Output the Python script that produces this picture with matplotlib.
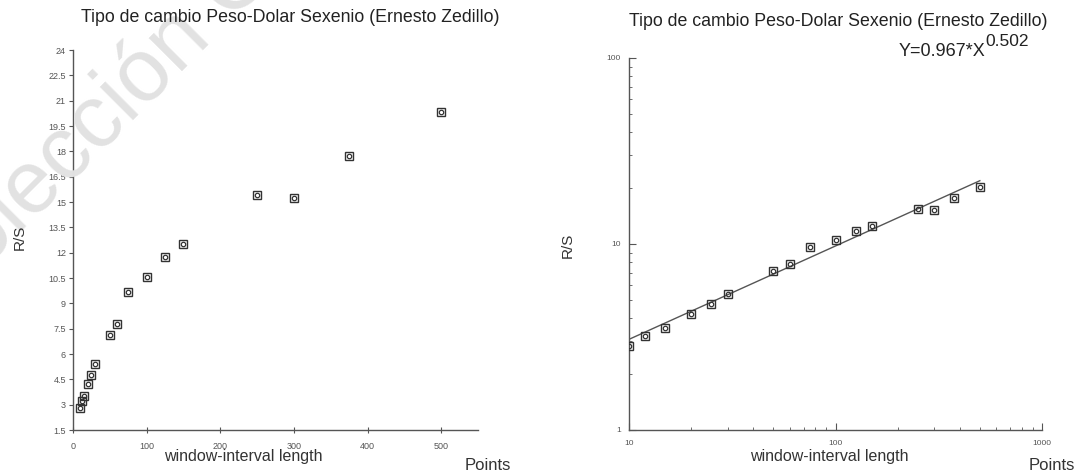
import numpy as np
import matplotlib
matplotlib.use('Agg')
import matplotlib.pyplot as plt
from matplotlib.ticker import FixedLocator, LogLocator, NullFormatter

plt.rcParams['font.family'] = ['Liberation Sans', 'DejaVu Sans']

# window-interval length (points) and rescaled range R/S
window = [10, 12, 15, 20, 25, 30, 50, 60, 75, 100, 125, 150, 250, 300, 375, 500]
rs = [2.82, 3.22, 3.53, 4.20, 4.77, 5.38, 7.13, 7.80, 9.65, 10.57,
      11.77, 12.50, 15.40, 15.25, 17.70, 20.30]

# power-law fit  Y = a * X^b
fit_a = 0.967
fit_b = 0.502

titulo = 'Tipo de cambio Peso-Dolar Sexenio (Ernesto Zedillo)'
yticks_lin = [1.5, 3, 4.5, 6, 7.5, 9, 10.5, 12, 13.5, 15, 16.5, 18, 19.5, 21, 22.5, 24]
xticks_lin = [0, 100, 200, 300, 400, 500]

W, H = 1087, 474
fig = plt.figure(figsize=(W / 100, H / 100), dpi=100)

# marca de agua
fig.text(-0.10, 0.305, 'Colección General', rotation=45, fontsize=64,
         color='#e2e2e2', ha='left', va='bottom', zorder=0)

mk = dict(linestyle='none', color='#333333')


def marcas(ax):
    ax.plot(window, rs, marker='s', markersize=5.5, markerfacecolor='none',
            markeredgewidth=1.0, **mk, zorder=3)
    ax.plot(window, rs, marker='o', markersize=3.2, markerfacecolor='none',
            markeredgewidth=0.9, **mk, zorder=3)


def estilo(ax):
    for s in ['top', 'right']:
        ax.spines[s].set_visible(False)
    for s in ['left', 'bottom']:
        ax.spines[s].set_color('#555555')
        ax.spines[s].set_linewidth(1.0)
    ax.set_facecolor('none')


# ---- lineal ----
ax1 = fig.add_axes([73 / W, 1 - 430 / H, (478 - 73) / W, (430 - 50) / H])
estilo(ax1)
marcas(ax1)
ax1.set_xlim(0, 550)
ax1.set_ylim(1.5, 24)
ax1.yaxis.set_major_locator(FixedLocator(yticks_lin))
ax1.set_yticklabels(['%g' % v for v in yticks_lin])
ax1.xaxis.set_major_locator(FixedLocator(xticks_lin))
ax1.set_xticklabels([str(v) for v in xticks_lin])
ax1.tick_params(axis='y', direction='out', length=3, width=0.8, colors='#555555',
                labelsize=6.5, pad=2)
ax1.tick_params(axis='x', direction='inout', length=5, width=0.8, colors='#555555',
                labelsize=6.5, pad=6)
fig.text(290 / W, 1 - 17 / H, titulo, ha='center', va='center', fontsize=12.8,
         color='#222222')
fig.text(243 / W, 1 - 457 / H, 'window-interval length', ha='center', va='center',
         fontsize=11.5, color='#333333')
fig.text(488 / W, 1 - 465 / H, 'Points', ha='center', va='center', fontsize=12,
         color='#333333')
fig.text(20 / W, 1 - 237 / H, 'R/S', ha='center', va='center', rotation=90,
         fontsize=11, color='#333333')

# ---- log-log ----
ax2 = fig.add_axes([629 / W, 1 - 430 / H, (1042 - 629) / W, (430 - 58) / H])
estilo(ax2)
ax2.set_xscale('log')
ax2.set_yscale('log')
marcas(ax2)
xf = np.array([window[0], window[-1]], dtype=float)
ax2.plot(xf, fit_a * xf ** fit_b, color='#555555', linewidth=1.0, zorder=2)
ax2.set_xlim(10, 1000)
ax2.set_ylim(1, 100)
ax2.xaxis.set_major_locator(FixedLocator([10, 100, 1000]))
ax2.set_xticklabels(['10', '100', '1000'])
ax2.yaxis.set_major_locator(FixedLocator([1, 10, 100]))
ax2.set_yticklabels(['1', '10', '100'])
for a in (ax2.xaxis, ax2.yaxis):
    a.set_minor_locator(LogLocator(base=10, subs=np.arange(2, 10)))
    a.set_minor_formatter(NullFormatter())
ax2.tick_params(which='major', direction='in', length=5, width=0.8,
                colors='#555555', labelsize=6)
ax2.tick_params(which='minor', direction='in', length=2.5, width=0.6,
                colors='#555555')
ax2.tick_params(axis='x', which='major', pad=7)
ax2.tick_params(axis='y', which='major', pad=6)
fig.text(838 / W, 1 - 21 / H, titulo, ha='center', va='center', fontsize=12.8,
         color='#222222')
# ecuación del ajuste, exponente como superíndice
fig.text(985 / W, 1 - 52 / H, 'Y=%.3f*X' % fit_a, ha='right', va='center',
         fontsize=13, color='#222222')
fig.text(985 / W, 1 - 42 / H, '%.3f' % fit_b, ha='left', va='center',
         fontsize=12.5, color='#222222')
fig.text(829 / W, 1 - 457 / H, 'window-interval length', ha='center', va='center',
         fontsize=11.5, color='#333333')
fig.text(1052 / W, 1 - 465 / H, 'Points', ha='center', va='center', fontsize=12,
         color='#333333')
fig.text(568 / W, 1 - 245 / H, 'R/S', ha='center', va='center', rotation=90,
         fontsize=11, color='#333333')

fig.savefig('out.png', dpi=100)
